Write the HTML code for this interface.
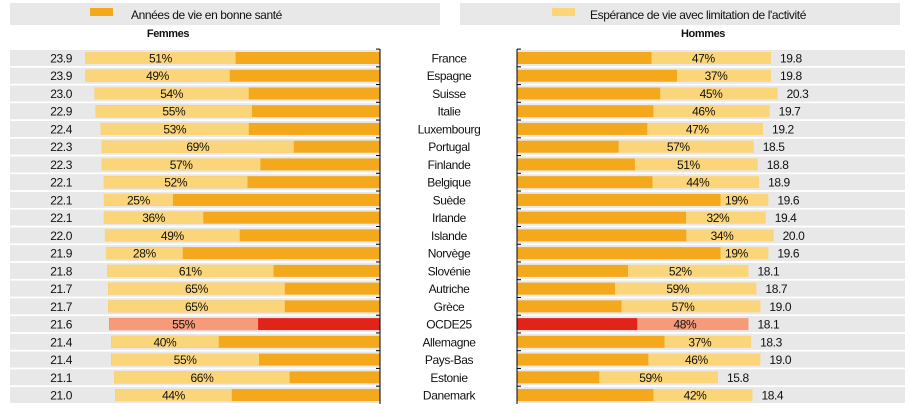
<!DOCTYPE html>
<html><head><meta charset="utf-8"><style>
html,body{margin:0;padding:0;background:#fff}
svg text{font-family:"Liberation Sans",sans-serif;font-size:12px;fill:#111;letter-spacing:-0.4px}
</style></head><body>
<svg id="chart" width="908" height="406"></svg>
<script>
const countries=["France","Espagne","Suisse","Italie","Luxembourg","Portugal","Finlande","Belgique","Suède","Irlande","Islande","Norvège","Slovénie","Autriche","Grèce","OCDE25","Allemagne","Pays-Bas","Estonie","Danemark"];
const womenTotal=[23.9,23.9,23.0,22.9,22.4,22.3,22.3,22.1,22.1,22.1,22.0,21.9,21.8,21.7,21.7,21.6,21.4,21.4,21.1,21.0];
const womenPct=[51,49,54,55,53,69,57,52,25,36,49,28,61,65,65,55,40,55,66,44];
const menTotal=[19.8,19.8,20.3,19.7,19.2,18.5,18.8,18.9,19.6,19.4,20.0,19.6,18.1,18.7,19.0,18.1,18.3,19.0,15.8,18.4];
const menPct=[47,37,45,46,47,57,51,44,19,32,34,19,52,59,57,48,37,46,59,42];

const NS="http://www.w3.org/2000/svg";
const svg=document.getElementById('chart');
function mk(t,a,p){const e=document.createElementNS(NS,t);for(const k in a)e.setAttribute(k,a[k]);(p||svg).appendChild(e);return e;}
const rowY=i=>58+i*17.74;
const wLen=v=>10.34*(v+4.6);
const mLen=v=>13.25*(v-0.63);
const LAX=380,RAX=517;

let e;
e=mk('rect',{x:10,y:3,width:430,height:22,fill:'#e8e8e8'});

e=mk('rect',{x:460,y:3,width:440,height:22,fill:'#e8e8e8'});

e=mk('rect',{x:90,y:8,width:23,height:8,fill:'#f4a81c'});

e=mk('text',{x:131,y:19});e.textContent='Années de vie en bonne santé';

e=mk('rect',{x:552,y:8,width:23,height:8,fill:'#fbd57a'});

e=mk('text',{x:590,y:19});e.textContent="Espérance de vie avec limitation de l'activité";

e=mk('text',{x:168,y:37,'text-anchor':'middle','font-weight':'bold',style:'font-size:11px'});e.textContent='Femmes';

e=mk('text',{x:703,y:37,'text-anchor':'middle','font-weight':'bold',style:'font-size:11px'});e.textContent='Hommes';


countries.forEach((c,i)=>{
  const y=rowY(i), oecd=c==='OCDE25';
  const dark=oecd?'#e2231a':'#f4a81c', light=oecd?'#f79a7a':'#fbd57a';
  e=mk('rect',{x:10,y:y-8,width:LAX-10,height:16,fill:'#e8e8e8'});
  
  e=mk('rect',{x:RAX,y:y-8,width:905-RAX,height:16,fill:'#e8e8e8'});
  
  const wl=wLen(womenTotal[i]), wlight=wl*womenPct[i]/100;
  e=mk('rect',{x:LAX-wl,y:y-6,width:wl,height:12,fill:dark});
  
  e=mk('rect',{x:LAX-wl,y:y-6,width:wlight,height:12,fill:light});
  
  e=mk('text',{x:LAX-wl+wlight/2,y:y+4.5,'text-anchor':'middle'});e.textContent=womenPct[i]+'%';
  
  e=mk('text',{x:72,y:y+4.5,'text-anchor':'end'});e.textContent=womenTotal[i].toFixed(1);
  
  e=mk('text',{x:449,y:y+4.5,'text-anchor':'middle'});e.textContent=c;
  
  const ml=mLen(menTotal[i]), mlight=ml*menPct[i]/100, mdark=ml-mlight;
  e=mk('rect',{x:RAX,y:y-6,width:mdark,height:12,fill:dark});
  
  e=mk('rect',{x:RAX+mdark,y:y-6,width:mlight,height:12,fill:light});
  
  e=mk('text',{x:RAX+mdark+mlight/2-8,y:y+4.5,'text-anchor':'middle'});e.textContent=menPct[i]+'%';
  
  e=mk('text',{x:RAX+ml+9,y:y+4.5});e.textContent=menTotal[i].toFixed(1);
  
  e=mk('line',{x1:LAX,x2:LAX-4,y1:y-8.9,y2:y-8.9,stroke:'#000'});
  
  e=mk('line',{x1:RAX,x2:RAX+4,y1:y-8.9,y2:y-8.9,stroke:'#000'});
  
});
e=mk('line',{x1:LAX,x2:LAX,y1:49,y2:404,stroke:'#000'});

e=mk('line',{x1:RAX,x2:RAX,y1:49,y2:404,stroke:'#000'});

</script>
</body></html>
